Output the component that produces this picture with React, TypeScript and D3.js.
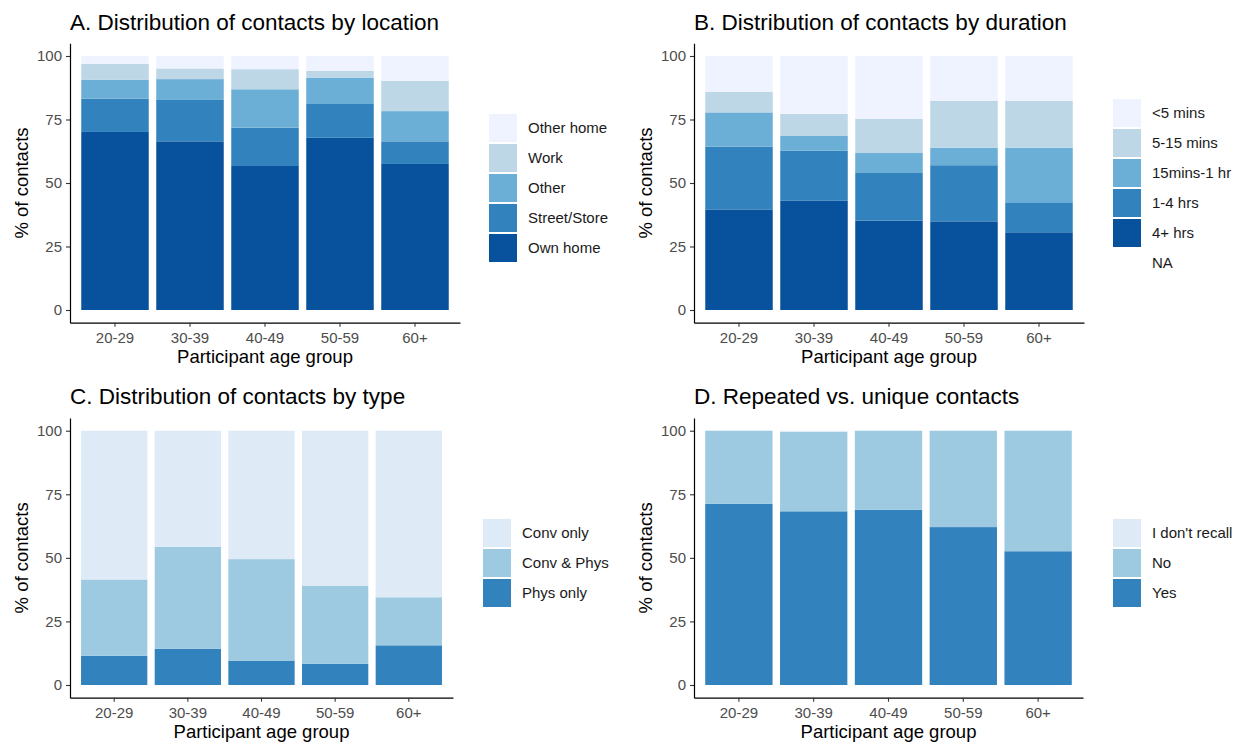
import React, { useEffect, useRef } from "react";
import * as d3 from "d3";

const FONT = "'Liberation Sans', Arial, Helvetica, sans-serif";

const ageGroups = ["20-29", "30-39", "40-49", "50-59", "60+"];
const yTicks = [0, 25, 50, 75, 100];

// A. location (stack order: bottom -> top)
const locationKeys = ["Own home", "Street/Store", "Other", "Work", "Other home"];
const locOwnHome = [70.1, 66.4, 56.7, 67.8, 57.5];
const locStreetStore = [13.1, 16.3, 15.1, 13.3, 8.9];
const locOther = [7.5, 8.2, 15.1, 10.4, 11.9];
const locWork = [6.2, 4.2, 7.9, 2.7, 11.9];
const locOtherHome = [3.1, 4.9, 5.2, 5.8, 9.8];

// B. duration
const durationKeys = ["4+ hrs", "1-4 hrs", "15mins-1 hr", "5-15 mins", "<5 mins", "NA"];
const dur4plus = [39.6, 43.0, 35.2, 34.9, 30.6];
const dur1to4 = [24.7, 19.7, 19.0, 22.1, 11.8];
const dur15to60 = [13.5, 5.8, 7.6, 6.9, 21.5];
const dur5to15 = [8.1, 8.7, 13.4, 18.5, 18.5];
const durUnder5 = [14.1, 22.8, 24.8, 17.6, 17.6];
const durNA = [0, 0, 0, 0, 0];

// C. type
const typeKeys = ["Phys only", "Conv & Phys", "Conv only"];
const typePhysOnly = [11.5, 14.2, 9.6, 8.3, 15.6];
const typeConvPhys = [30.0, 40.2, 39.9, 30.8, 18.9];
const typeConvOnly = [58.5, 45.6, 50.5, 60.9, 65.5];

// D. repeated
const repeatKeys = ["Yes", "No", "I don't recall"];
const repYes = [71.3, 68.3, 68.9, 62.1, 52.6];
const repNo = [28.7, 31.3, 31.1, 37.9, 47.4];
const repDontRecall = [0, 0.4, 0, 0, 0];

const blues5 = ["#08519c", "#3182bd", "#6baed6", "#bdd7e7", "#eff3ff"];
const blues3 = ["#3182bd", "#9ecae1", "#deebf7"];

interface PanelSpec {
    title: string;
    keys: string[];
    series: number[][];
    colors: (string | null)[];
    xRange: [number, number];
    yRange: [number, number]; // pixel for -5 and 105
    titleY: number;
    legendX: number;
    legendY: number;
}

function drawPanel(svg: d3.Selection<SVGSVGElement, unknown, null, undefined>, p: PanelSpec) {
    const g = svg.append("g");
    const rows = ageGroups.map((grp, i) => {
        const r: any = { group: grp };
        p.keys.forEach((k, j) => (r[k] = p.series[j][i]));
        return r;
    });
    const stacked = d3.stack<any>().keys(p.keys)(rows);

    const x = d3.scaleBand<string>().domain(ageGroups).range(p.xRange).paddingInner(0.1).paddingOuter(0.15);
    const y = d3.scaleLinear().domain([-5, 105]).range(p.yRange);

    // bars
    g.selectAll("g.layer")
        .data(stacked)
        .join("g")
        .attr("class", "layer")
        .attr("fill", (_, i) => p.colors[i] || "none")
        .selectAll("rect")
        .data(d => d)
        .join("rect")
        .attr("x", d => x(d.data.group)!)
        .attr("y", d => y(d[1]))
        .attr("width", x.bandwidth())
        .attr("height", d => Math.max(0, y(d[0]) - y(d[1])));

    const styleAxis = (a: d3.Selection<SVGGElement, unknown, null, undefined>) => {
        a.attr("font-family", FONT).attr("font-size", 15);
        a.select(".domain").attr("stroke", "#000").attr("stroke-width", 1.2);
        a.selectAll(".tick line").attr("stroke", "#333").attr("stroke-width", 1.1);
        a.selectAll(".tick text").attr("fill", "#4d4d4d");
    };

    // y axis
    g.append("g")
        .attr("transform", `translate(${p.xRange[0]},0)`)
        .call(d3.axisLeft(y).tickValues(yTicks).tickSize(4).tickPadding(4).tickSizeOuter(0))
        .call(styleAxis);

    // x axis
    g.append("g")
        .attr("transform", `translate(0,${p.yRange[0]})`)
        .call(d3.axisBottom(x).tickSize(4).tickPadding(6).tickSizeOuter(0))
        .call(styleAxis);

    // titles
    g.append("text")
        .attr("x", p.xRange[0])
        .attr("y", p.titleY)
        .attr("font-family", FONT)
        .attr("font-size", 22.5)
        .attr("fill", "#000")
        .text(p.title);

    g.append("text")
        .attr("transform", `translate(${p.xRange[0] - 42},${(y(0) + y(100)) / 2}) rotate(-90)`)
        .attr("text-anchor", "middle")
        .attr("font-family", FONT)
        .attr("font-size", 18.5)
        .attr("fill", "#000")
        .text("% of contacts");

    g.append("text")
        .attr("x", (p.xRange[0] + p.xRange[1]) / 2)
        .attr("y", p.yRange[0] + 40.5)
        .attr("text-anchor", "middle")
        .attr("font-family", FONT)
        .attr("font-size", 18.5)
        .attr("fill", "#000")
        .text("Participant age group");

    // legend (top -> bottom is reverse of stack order, NA last)
    const items = p.keys.map((k, i) => ({ key: k, color: p.colors[i] }));
    const ordered = items.filter(d => d.color).reverse().concat(items.filter(d => !d.color));
    const leg = g.append("g").attr("transform", `translate(${p.legendX},${p.legendY})`);
    const item = leg.selectAll("g").data(ordered).join("g")
        .attr("transform", (_, i) => `translate(0,${i * 30})`);
    item.filter(d => !!d.color).append("rect")
        .attr("width", 28)
        .attr("height", 28)
        .attr("fill", d => d.color!);
    item.append("text")
        .attr("x", 39)
        .attr("y", 14)
        .attr("dy", "0.35em")
        .attr("font-family", FONT)
        .attr("font-size", 15)
        .attr("fill", "#1a1a1a")
        .text(d => d.key);
}

export default function App() {
    const svgRef = useRef<SVGSVGElement>(null);

    useEffect(() => {
        if (!svgRef.current) return;
        const svg = d3.select(svgRef.current);
        svg.selectAll("*").remove();

        drawPanel(svg, {
            title: "A. Distribution of contacts by location",
            keys: locationKeys,
            series: [locOwnHome, locStreetStore, locOther, locWork, locOtherHome],
            colors: blues5,
            xRange: [70, 460],
            yRange: [322.7, 43.3],
            titleY: 30,
            legendX: 489,
            legendY: 114,
        });

        drawPanel(svg, {
            title: "B. Distribution of contacts by duration",
            keys: durationKeys,
            series: [dur4plus, dur1to4, dur15to60, dur5to15, durUnder5, durNA],
            colors: [...blues5, null],
            xRange: [694, 1084],
            yRange: [322.7, 43.3],
            titleY: 30,
            legendX: 1113,
            legendY: 99,
        });

        drawPanel(svg, {
            title: "C. Distribution of contacts by type",
            keys: typeKeys,
            series: [typePhysOnly, typeConvPhys, typeConvOnly],
            colors: blues3,
            xRange: [70, 453],
            yRange: [697.7, 418],
            titleY: 404,
            legendX: 483,
            legendY: 519,
        });

        drawPanel(svg, {
            title: "D. Repeated vs. unique contacts",
            keys: repeatKeys,
            series: [repYes, repNo, repDontRecall],
            colors: blues3,
            xRange: [694, 1083],
            yRange: [697.7, 418],
            titleY: 404,
            legendX: 1113,
            legendY: 519,
        });
    }, []);

    return (
        <svg
            ref={svgRef}
            width={1233}
            height={742}
            style={{ position: "absolute", left: 0, top: 0, background: "#fff" }}
        />
    );
}
